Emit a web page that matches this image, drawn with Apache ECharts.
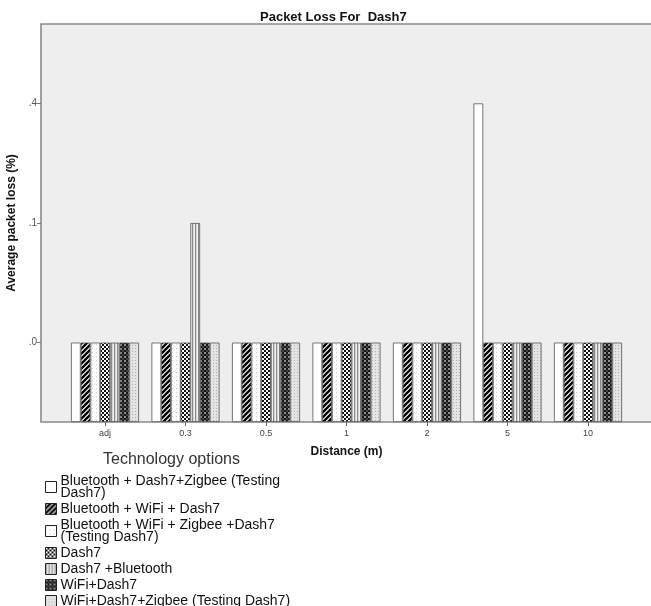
<!DOCTYPE html>
<html><head><meta charset="utf-8">
<script src="https://cdn.jsdelivr.net/npm/echarts@6/dist/echarts.min.js"></script>
<style>html,body{margin:0;padding:0;background:#fff}#c{width:651px;height:606px}</style>
</head><body><div id="c"></div><script>
// ---- data ----
const categories = ['adj', '0.3', '0.5', '1', '2', '5', '10'];
const seriesNames = [
  'Bluetooth + Dash7+Zigbee (Testing Dash7)',
  'Bluetooth + WiFi + Dash7',
  'Bluetooth + WiFi + Zigbee +Dash7 (Testing Dash7)',
  'Dash7',
  'Dash7 +Bluetooth',
  'WiFi+Dash7',
  'WiFi+Dash7+Zigbee (Testing Dash7)'
];
const btDash7Zigbee = [0, 0, 0, 0, 0, 0.4, 0];
const btWifiDash7 = [0, 0, 0, 0, 0, 0, 0];
const btWifiZigbeeDash7 = [0, 0, 0, 0, 0, 0, 0];
const dash7 = [0, 0, 0, 0, 0, 0, 0];
const dash7Bluetooth = [0, 0.1, 0, 0, 0, 0, 0];
const wifiDash7 = [0, 0, 0, 0, 0, 0, 0];
const wifiDash7Zigbee = [0, 0, 0, 0, 0, 0, 0];
const yTickValues = [0, 0.1, 0.4];
const yTickLabels = ['.0', '.1', '.4'];
const legendLines = {
  'Bluetooth + Dash7+Zigbee (Testing Dash7)': 'Bluetooth + Dash7+Zigbee (Testing\nDash7)',
  'Bluetooth + WiFi + Zigbee +Dash7 (Testing Dash7)': 'Bluetooth + WiFi + Zigbee +Dash7\n(Testing Dash7)'
};

// ---- axis mapping (the original axis is spaced by tick index) ----
const BELOW = 0.664, ABOVE = 0.664;
const AXMAX = BELOW + (yTickValues.length - 1) + ABOVE;
function pos(v) {
  const t = yTickValues;
  for (let i = 0; i < t.length - 1; i++) {
    if (v <= t[i + 1] || i === t.length - 2) return BELOW + i + (v - t[i]) / (t[i + 1] - t[i]);
  }
}
const tickPositions = yTickValues.map(pos);

// ---- fill patterns ----
function pattern(size, draw) {
  const c = document.createElement('canvas');
  c.width = size; c.height = size;
  const ctx = c.getContext('2d');
  draw(ctx, size);
  return { image: c, repeat: 'repeat' };
}
const fills = [
  '#ffffff',
  pattern(5, (x, s) => {
    x.fillStyle = '#fff'; x.fillRect(0, 0, s, s);
    x.strokeStyle = '#000'; x.lineWidth = 2.3;
    x.beginPath();
    x.moveTo(-1, s + 1); x.lineTo(s + 1, -1);
    x.moveTo(-1, 1); x.lineTo(1, -1);
    x.moveTo(s - 1, s + 1); x.lineTo(s + 1, s - 1);
    x.stroke();
  }),
  pattern(4, (x, s) => {
    x.fillStyle = '#fdfdfd'; x.fillRect(0, 0, s, s);
    x.fillStyle = '#cfcfcf'; x.fillRect(0, 0, 1, 1);
  }),
  pattern(4, (x, s) => {
    x.fillStyle = '#111'; x.fillRect(0, 0, s, s);
    x.fillStyle = '#fff'; x.fillRect(0, 0, 2, 2); x.fillRect(2, 2, 2, 2);
  }),
  pattern(3, (x, s) => {
    x.fillStyle = '#f2f2f2'; x.fillRect(0, 0, s, s);
    x.fillStyle = '#8a8a8a'; x.fillRect(0, 0, 1.3, s);
  }),
  pattern(4, (x, s) => {
    x.fillStyle = '#151515'; x.fillRect(0, 0, s, s);
    x.fillStyle = '#8f8f8f'; x.fillRect(0, 0, 2, 2);
    x.fillStyle = '#444'; x.fillRect(2, 2, 2, 2);
  }),
  pattern(3, (x, s) => {
    x.fillStyle = '#e4e4e4'; x.fillRect(0, 0, s, s);
    x.fillStyle = '#b0b0b0'; x.fillRect(0, 0, 1, 1);
  })
];

const seriesData = [btDash7Zigbee, btWifiDash7, btWifiZigbeeDash7, dash7, dash7Bluetooth, wifiDash7, wifiDash7Zigbee];
const FONT = 'Arial, "Liberation Sans", sans-serif';

const chart = echarts.init(document.getElementById('c'), null, { renderer: 'canvas' });
chart.setOption({
  animation: false,
  backgroundColor: '#ffffff',
  title: [
    { text: 'Packet Loss For  Dash7', left: 255, top: 6,
      textStyle: { fontFamily: FONT, fontSize: 13, fontWeight: 'bold', color: '#111' } },
    { text: 'Technology options', left: 98, top: 447,
      textStyle: { fontFamily: FONT, fontSize: 16, fontWeight: 'normal', color: '#333' } }
  ],
  grid: [
    { left: 41, top: 24, right: -5, bottom: 184, show: true, backgroundColor: '#eeeeee',
      borderColor: '#8a8a8a', borderWidth: 1.6, outerBoundsMode: 'none', containLabel: false },
    { left: 64.75, top: 24, right: 22.75, bottom: 184, outerBoundsMode: 'none', containLabel: false }
  ],
  xAxis: [
    { gridIndex: 0, type: 'value', show: false, min: 0, max: 1 },
    { gridIndex: 1, type: 'category', data: categories,
      axisLine: { show: false },
      axisTick: { show: true, alignWithLabel: true, length: 4, lineStyle: { color: '#666' } },
      axisLabel: { fontFamily: FONT, fontSize: 9, color: '#444', margin: 7 },
      name: 'Distance (m)', nameLocation: 'middle', nameGap: 24,
      nameTextStyle: { fontFamily: FONT, fontSize: 12, fontWeight: 'bold', color: '#111' } }
  ],
  yAxis: [
    { gridIndex: 0, type: 'value', min: 0, max: AXMAX,
      splitLine: { show: false },
      axisLine: { show: false },
      axisTick: { show: true, length: 4, customValues: tickPositions, lineStyle: { color: '#777' } },
      axisLabel: { customValues: tickPositions, fontFamily: FONT, fontSize: 10, color: '#555', margin: 4,
        formatter: v => { const i = tickPositions.findIndex(p => Math.abs(p - v) < 1e-6); return i >= 0 ? yTickLabels[i] : ''; } },
      name: 'Average packet loss (%)', nameLocation: 'middle', nameGap: 21,
      nameTextStyle: { fontFamily: FONT, fontSize: 12, fontWeight: 'bold', color: '#111' } },
    { gridIndex: 1, type: 'value', min: 0, max: AXMAX, show: false }
  ],
  legend: {
    orient: 'vertical', left: 45, top: 474, padding: 0, height: 220,
    itemWidth: 11, itemHeight: 11, itemGap: 2,
    icon: 'rect', selectedMode: false,
    data: seriesNames,
    formatter: n => legendLines[n] || n,
    itemStyle: { borderColor: '#222', borderWidth: 1 },
    textStyle: { fontFamily: FONT, fontSize: 14, color: '#111', lineHeight: 12, padding: [0, 0, 0, -1] }
  },
  series: seriesNames.map((name, i) => ({
    name, type: 'bar', xAxisIndex: 1, yAxisIndex: 1,
    barGap: '0%', barCategoryGap: '15.5%',
    data: seriesData[i].map(pos),
    itemStyle: { color: fills[i], borderColor: '#555', borderWidth: 0.8 },
    emphasis: { disabled: true }
  }))
});
</script></body></html>
